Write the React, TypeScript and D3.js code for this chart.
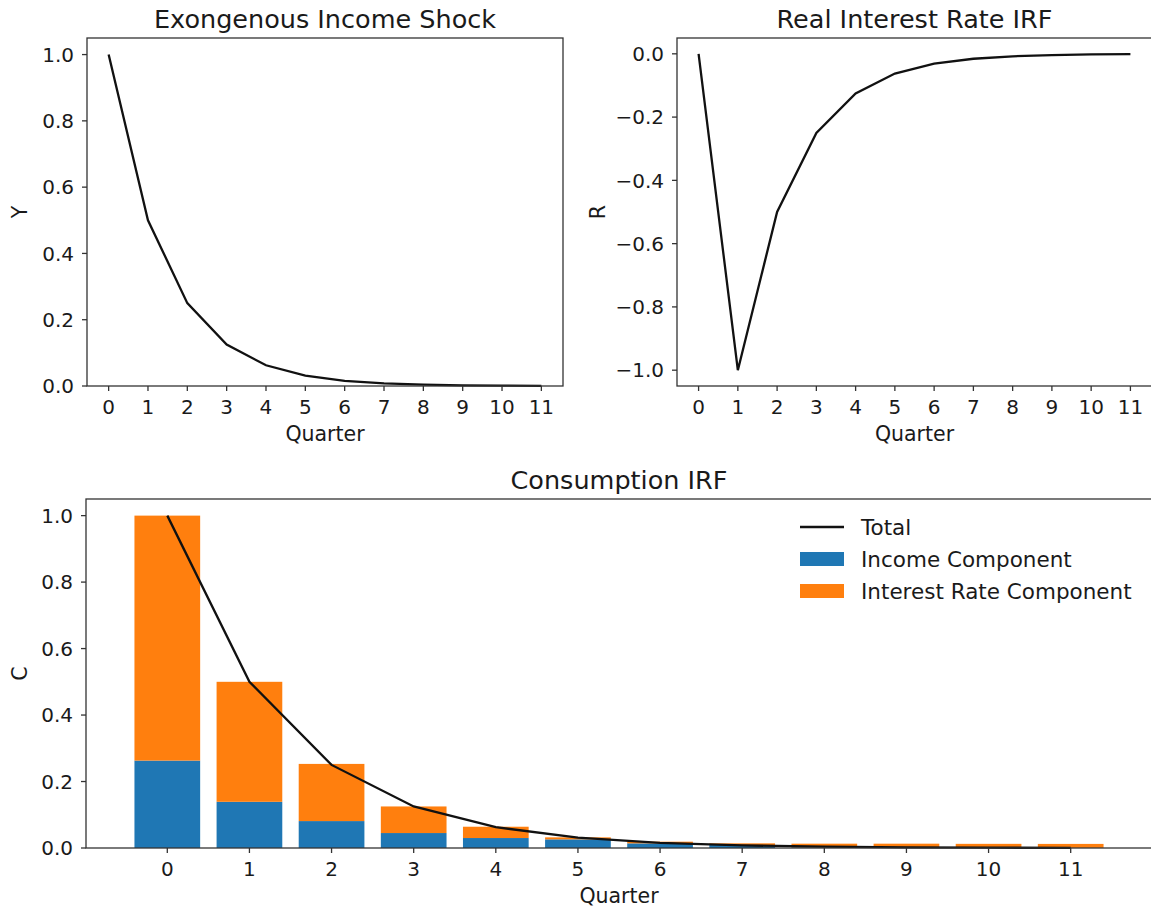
import React from "react";
import * as d3 from "d3";

const quarters = [0, 1, 2, 3, 4, 5, 6, 7, 8, 9, 10, 11];
const incomeShock = [1.0, 0.5, 0.25, 0.125, 0.0625, 0.03125, 0.015625, 0.0078, 0.0039, 0.00195, 0.00098, 0.00049];
const realRate = [0.0, -1.0, -0.5, -0.25, -0.125, -0.0625, -0.03125, -0.0156, -0.0078, -0.0039, -0.00195, -0.00098];
const consumptionTotal = [1.0, 0.5, 0.25, 0.125, 0.0625, 0.03125, 0.015625, 0.0078, 0.0039, 0.00195, 0.00098, 0.00049];
const incomeComponent = [0.263, 0.139, 0.081, 0.045, 0.030, 0.026, 0.014, 0.009, 0.002, 0.001, 0.0005, 0.0003];
const interestComponent = [0.737, 0.361, 0.172, 0.080, 0.034, 0.006, 0.005, 0.005, 0.011, 0.012, 0.012, 0.012];
const yTicksTop = [0, 0.2, 0.4, 0.6, 0.8, 1.0];
const rTicks = [0, -0.2, -0.4, -0.6, -0.8, -1.0];
const legendLabels = ["Total", "Income Component", "Interest Rate Component"];

const BLUE = "#1f77b4";
const ORANGE = "#ff7f0e";
const TXT = "#1a1a1a";
const FONT = "DejaVu Sans, sans-serif";
const TICK_FS = 20;
const LABEL_FS = 20.5;
const TITLE_FS = 25.5;

type Box = { l: number; r: number; t: number; b: number };

function Axes({ box, x, y, xTicks, yTicks, title, xLabel, yLabel, yLabelX, children }: any) {
  const fmt = (v: number) => (v < 0 ? "\u2212" + Math.abs(v).toFixed(1) : v.toFixed(1));
  return (
    <g>
      {children}
      <rect x={box.l} y={box.t} width={box.r - box.l} height={box.b - box.t} fill="none" stroke="#333" strokeWidth={1.3} />
      {xTicks.map((t: number) => (
        <g key={"x" + t}>
          <line x1={x(t)} x2={x(t)} y1={box.b} y2={box.b + 5} stroke="#333" strokeWidth={1.3} />
          <text x={x(t)} y={box.b + 27.5} textAnchor="middle" fontSize={TICK_FS} fill={TXT}>{t}</text>
        </g>
      ))}
      {yTicks.map((t: number) => (
        <g key={"y" + t}>
          <line x1={box.l - 5} x2={box.l} y1={y(t)} y2={y(t)} stroke="#333" strokeWidth={1.3} />
          <text x={box.l - 13} y={y(t) + 7.2} textAnchor="end" fontSize={TICK_FS} fill={TXT}>{fmt(t)}</text>
        </g>
      ))}
      <text x={(box.l + box.r) / 2} y={box.t - 10} textAnchor="middle" fontSize={TITLE_FS} fill={TXT}>{title}</text>
      <text x={(box.l + box.r) / 2} y={box.b + 55} textAnchor="middle" fontSize={LABEL_FS} fill={TXT}>{xLabel}</text>
      <text transform={`translate(${yLabelX},${(box.t + box.b) / 2}) rotate(-90)`} textAnchor="middle" fontSize={LABEL_FS} fill={TXT}>{yLabel}</text>
    </g>
  );
}

export default function App() {
  const b1: Box = { l: 87, r: 563, t: 38, b: 386 };
  const b2: Box = { l: 677, r: 1152, t: 38, b: 386 };
  const b3: Box = { l: 86, r: 1152, t: 499, b: 848 };

  const x1 = d3.scaleLinear().domain([-0.55, 11.55]).range([b1.l, b1.r]);
  const y1 = d3.scaleLinear().domain([0, 1.05]).range([b1.b, b1.t]);
  const x2 = d3.scaleLinear().domain([-0.55, 11.55]).range([b2.l, b2.r]);
  const y2 = d3.scaleLinear().domain([-1.05, 0.05]).range([b2.b, b2.t]);
  const x3 = d3.scaleLinear().domain([-0.99, 11.99]).range([b3.l, b3.r]);
  const y3 = d3.scaleLinear().domain([0, 1.05]).range([b3.b, b3.t]);

  const line1 = d3.line<number>().x((_, i) => x1(quarters[i])).y((d) => y1(d))(incomeShock) || "";
  const line2 = d3.line<number>().x((_, i) => x2(quarters[i])).y((d) => y2(d))(realRate) || "";
  const line3 = d3.line<number>().x((_, i) => x3(quarters[i])).y((d) => y3(d))(consumptionTotal) || "";
  const bw = x3(0.4) - x3(-0.4);

  return (
    <svg width={1151} height={912} style={{ position: "absolute", left: 0, top: 0 }} fontFamily={FONT}>
      <rect width={1151} height={912} fill="#fff" />
      <Axes box={b1} x={x1} y={y1} xTicks={quarters} yTicks={yTicksTop} title="Exongenous Income Shock" xLabel="Quarter" yLabel="Y" yLabelX={27}>
        <path d={line1} fill="none" stroke="#111" strokeWidth={2.3} />
      </Axes>
      <Axes box={b2} x={x2} y={y2} xTicks={quarters} yTicks={rTicks} title="Real Interest Rate IRF" xLabel="Quarter" yLabel="R" yLabelX={605}>
        <path d={line2} fill="none" stroke="#111" strokeWidth={2.3} />
      </Axes>
      <Axes box={b3} x={x3} y={y3} xTicks={quarters} yTicks={yTicksTop} title="Consumption IRF" xLabel="Quarter" yLabel="C" yLabelX={27}>
        {quarters.map((q, i) => (
          <g key={"bar" + q}>
            <rect x={x3(q) - bw / 2} width={bw} y={y3(incomeComponent[i])} height={y3(0) - y3(incomeComponent[i])} fill={BLUE} />
            <rect x={x3(q) - bw / 2} width={bw} y={y3(incomeComponent[i] + interestComponent[i])} height={y3(incomeComponent[i]) - y3(incomeComponent[i] + interestComponent[i])} fill={ORANGE} />
          </g>
        ))}
        <path d={line3} fill="none" stroke="#111" strokeWidth={2.3} />
        <g>
          <line x1={800} x2={844} y1={527} y2={527} stroke="#111" strokeWidth={2.3} />
          <rect x={800} y={552} width={44} height={14} fill={BLUE} />
          <rect x={800} y={584} width={44} height={14} fill={ORANGE} />
          {legendLabels.map((l, i) => (
            <text key={l} x={861} y={534.5 + i * 32.3} fontSize={21.5} fill={TXT}>{l}</text>
          ))}
        </g>
      </Axes>
    </svg>
  );
}
